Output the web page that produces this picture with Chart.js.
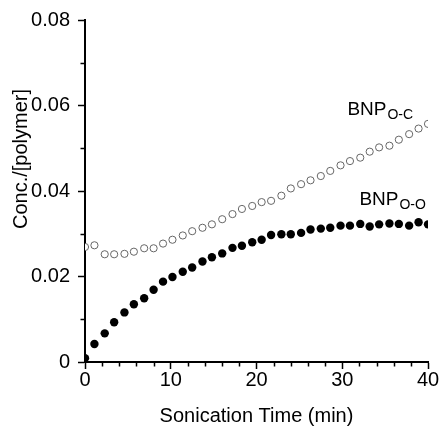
<!DOCTYPE html>
<html>
<head>
<meta charset="utf-8">
<script src="https://cdn.jsdelivr.net/npm/chart.js@4.4.1/dist/chart.umd.min.js"></script>
<style>
  html, body { margin: 0; padding: 0; background: #fff; }
  #wrap { width: 440px; height: 431px; }
</style>
</head>
<body>
<div id="wrap"><canvas id="chart" width="440" height="431"></canvas></div>
<script>
// tempos de sonicação (min)
const times = [0, 1.1, 2.3, 3.4, 4.6, 5.7, 6.9, 8.0, 9.1, 10.2, 11.4, 12.5, 13.7, 14.8, 16.0, 17.2, 18.3, 19.5,
               20.6, 21.7, 22.9, 24.0, 25.2, 26.3, 27.5, 28.6, 29.8, 30.9, 32.1, 33.2, 34.3, 35.5, 36.6, 37.8, 38.9, 40.0];

// BNP O-O (círculos cheios)
const bnpOO = [0.0009, 0.0042, 0.0067, 0.0093, 0.0116, 0.0135, 0.0149, 0.0169, 0.0188, 0.0199, 0.0211, 0.0221,
               0.0235, 0.0245, 0.0254, 0.0267, 0.0272, 0.0280, 0.0286, 0.0297, 0.0299, 0.0299, 0.0302, 0.0310,
               0.0312, 0.0314, 0.0319, 0.0319, 0.0323, 0.0317, 0.0322, 0.0324, 0.0323, 0.0319, 0.0327, 0.0322];

// BNP O-C (círculos abertos)
const bnpOC = [0.0269, 0.0273, 0.0252, 0.0252, 0.0253, 0.0258, 0.0266, 0.0266, 0.0277, 0.0286, 0.0296, 0.0306,
               0.0314, 0.0322, 0.0334, 0.0346, 0.0358, 0.0365, 0.0374, 0.0377, 0.0389, 0.0406, 0.0416, 0.0425,
               0.0435, 0.0447, 0.0460, 0.0470, 0.0478, 0.0492, 0.0502, 0.0506, 0.0520, 0.0533, 0.0546, 0.0557];

const xTicks = [0, 10, 20, 30, 40];
const yTicks = [0, 0.02, 0.04, 0.06, 0.08];
const xMinor = [2, 4, 6, 8, 12, 14, 16, 18, 22, 24, 26, 28, 32, 34, 36, 38];
const yMinor = [0.01, 0.03, 0.05, 0.07];

// rótulos das séries: [texto, subscrito, x, y]
const seriesLabels = [
    ['BNP', 'O-C', 30.6, 0.0578],
    ['BNP', 'O-O', 32.0, 0.0368]
];

const FONT = "'Liberation Sans', Arial, sans-serif";

const toPoints = ys => ys.map((y, i) => ({ x: times[i], y: y }));

// plugin: ticks menores, título do eixo y e rótulos
const extras = {
    id: 'extras',
    afterDraw(chart) {
        const ctx = chart.ctx;
        const xs = chart.scales.x, ys = chart.scales.y;
        const area = chart.chartArea;
        ctx.save();
        ctx.strokeStyle = '#000';
        ctx.lineWidth = 1.5;
        ctx.beginPath();
        xMinor.forEach(v => {
            const px = Math.round(xs.getPixelForValue(v)) + 0.5;
            ctx.moveTo(px, area.bottom);
            ctx.lineTo(px, area.bottom + 4.5);
        });
        yMinor.forEach(v => {
            const py = Math.round(ys.getPixelForValue(v)) + 0.5;
            ctx.moveTo(area.left, py);
            ctx.lineTo(area.left - 4.5, py);
        });
        ctx.stroke();

        // título do eixo y
        ctx.fillStyle = '#000';
        ctx.font = '20px ' + FONT;
        ctx.textAlign = 'center';
        ctx.textBaseline = 'middle';
        ctx.translate(21, 159);
        ctx.rotate(-Math.PI / 2);
        ctx.fillText('Conc./[polymer]', 0, 0);
        ctx.restore();

        ctx.save();
        ctx.fillStyle = '#000';
        ctx.textBaseline = 'alphabetic';
        ctx.textAlign = 'left';
        seriesLabels.forEach(([main, sub, x, y]) => {
            const px = xs.getPixelForValue(x);
            const py = ys.getPixelForValue(y);
            ctx.font = '19px ' + FONT;
            ctx.fillText(main, px, py);
            const w = ctx.measureText(main).width;
            ctx.font = '14px ' + FONT;
            ctx.fillText(sub, px + w + 1, py + 4);
        });
        ctx.restore();
    }
};

new Chart(document.getElementById('chart'), {
    type: 'scatter',
    data: {
        datasets: [{
            label: 'BNP O-C',
            data: toPoints(bnpOC),
            pointStyle: 'circle',
            pointRadius: 3.6,
            pointBorderWidth: 1,
            pointBorderColor: '#666',
            pointBackgroundColor: '#fff',
            clip: 0
        }, {
            label: 'BNP O-O',
            data: toPoints(bnpOO),
            pointStyle: 'circle',
            pointRadius: 4.2,
            pointBorderWidth: 0,
            pointBackgroundColor: '#000',
            pointBorderColor: '#000',
            clip: 0
        }]
    },
    options: {
        responsive: false,
        animation: false,
        devicePixelRatio: 1,
        layout: { padding: { left: 0, right: 12, top: 20, bottom: 0 } },
        plugins: {
            legend: { display: false },
            tooltip: { enabled: false }
        },
        scales: {
            x: {
                type: 'linear',
                min: 0,
                max: 40,
                afterFit: s => { s.height = 69; },
                afterBuildTicks: s => { s.ticks = xTicks.map(v => ({ value: v })); },
                ticks: {
                    color: '#000',
                    font: { family: FONT, size: 20 },
                    padding: -1,
                    maxRotation: 0,
                    callback: v => String(v)
                },
                grid: {
                    drawOnChartArea: false,
                    drawTicks: true,
                    tickLength: 7,
                    tickColor: '#000',
                    tickWidth: 1.5
                },
                border: { display: true, color: '#000', width: 2 },
                title: {
                    display: true,
                    text: 'Sonication Time (min)',
                    color: '#000',
                    font: { family: FONT, size: 20 },
                    padding: { top: 0, bottom: 3 }
                }
            },
            y: {
                type: 'linear',
                min: 0,
                max: 0.08,
                afterFit: s => { s.width = 85; },
                afterBuildTicks: s => { s.ticks = yTicks.map(v => ({ value: v })); },
                ticks: {
                    color: '#000',
                    font: { family: FONT, size: 20 },
                    padding: 8,
                    callback: v => v === 0 ? '0' : v.toFixed(2)
                },
                grid: {
                    drawOnChartArea: false,
                    drawTicks: true,
                    tickLength: 7,
                    tickColor: '#000',
                    tickWidth: 1.5
                },
                border: { display: true, color: '#000', width: 2 }
            }
        }
    },
    plugins: [extras]
});
</script>
</body>
</html>
